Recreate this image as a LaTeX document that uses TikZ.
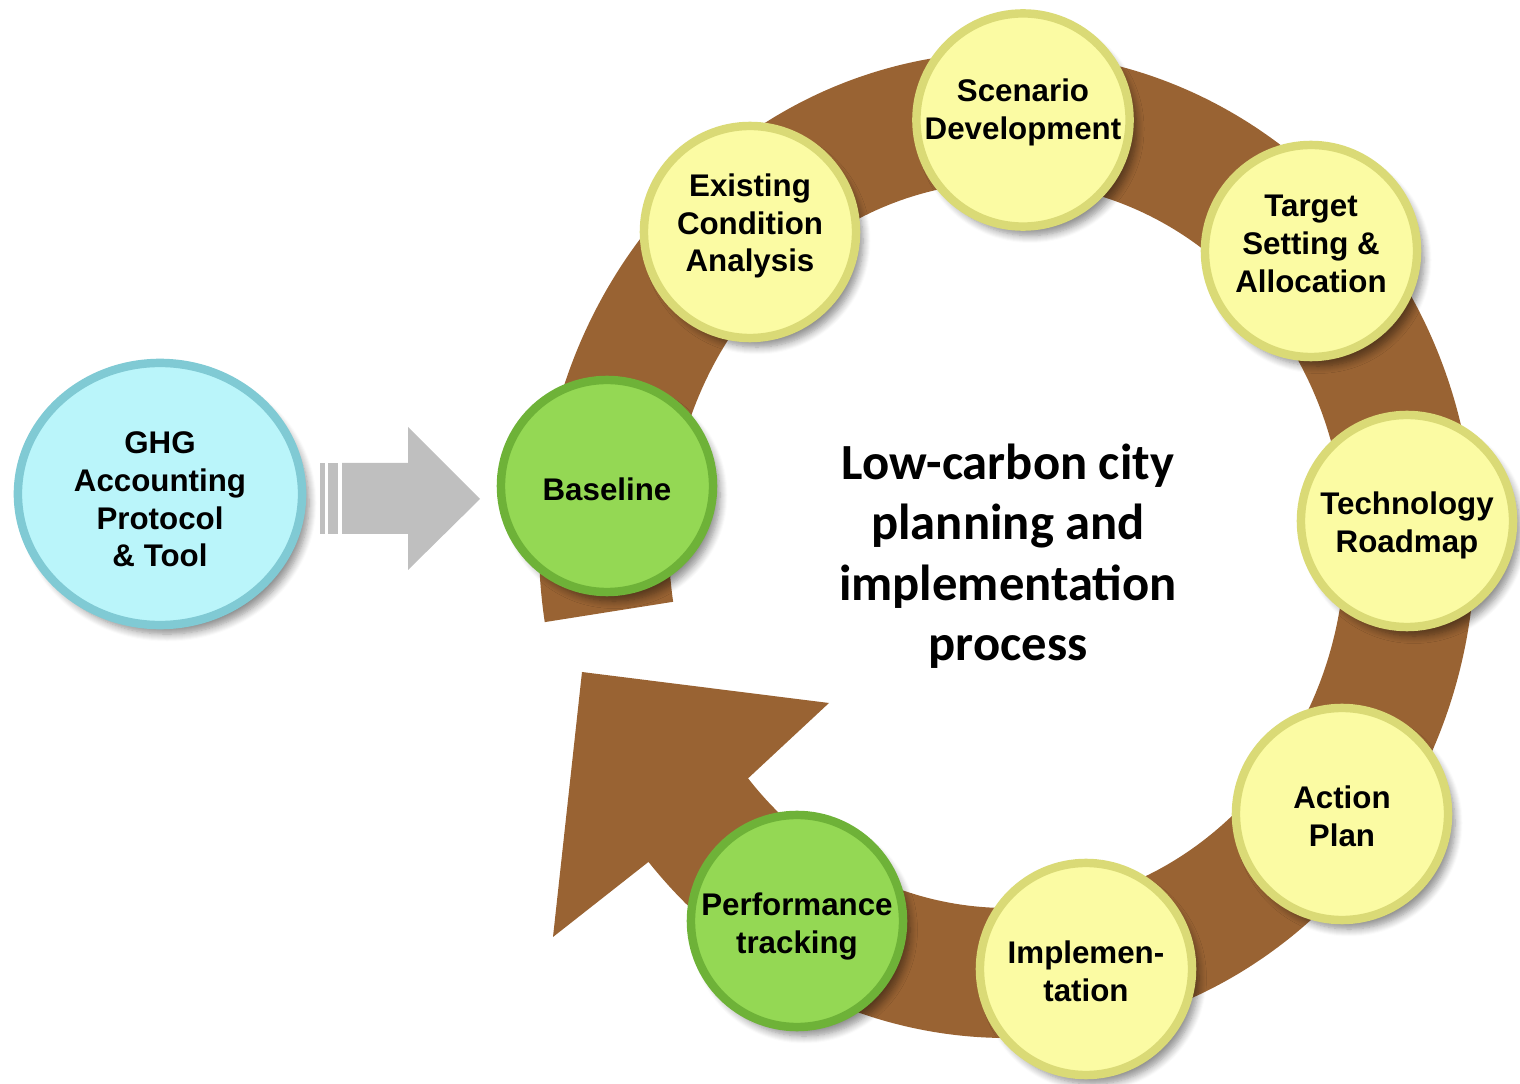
\documentclass[tikz,border=0pt]{standalone}
\usepackage{fontspec}
\setmainfont{Liberation Sans}
\newfontfamily\calfont{Carlito}
\usepackage{tikz}
\usetikzlibrary{calc}
\usetikzlibrary{shapes.geometric}
\usetikzlibrary{shadows.blur}

\definecolor{ringbrown}{RGB}{153,99,51}
\definecolor{ylwfill}{RGB}{251,251,163}
\definecolor{ylwrim}{RGB}{218,218,118}
\definecolor{grnfill}{RGB}{148,216,84}
\definecolor{grnrim}{RGB}{110,178,56}
\definecolor{cyanfill}{RGB}{186,245,250}
\definecolor{cyanrim}{RGB}{128,202,212}
\definecolor{arrowgray}{RGB}{191,191,191}

\begin{document}
\begin{tikzpicture}[x=0.01cm,y=0.01cm,
    button/.style 2 args={circle,minimum size=2.12cm,inner sep=0pt,align=center,
      fill=#1,draw=#2,line width=2.4pt,
      blur shadow={shadow xshift=0.7mm,shadow yshift=-0.9mm,shadow blur steps=8,shadow opacity=45},
      font=\bfseries\fontsize{8.9}{10.8}\selectfont},
    yellowbtn/.style={button={ylwfill}{ylwrim}},
    greenbtn/.style={button={grnfill}{grnrim}}]
  \useasboundingbox (0,0) rectangle (1520,1084);
  \coordinate (ctr) at (1007,539);
  \fill[ringbrown] ($(ctr)+(189:468 and 493)$)
      arc[start angle=189,end angle=-140,x radius=468,y radius=493]
      -- (553,147) -- (582,412) -- (829,381)
      -- ($(ctr)+(-140:338 and 363)$)
      arc[start angle=-140,end angle=189,x radius=338,y radius=363] -- cycle;
  \fill[arrowgray] (342,550) -- (408,550) -- (408,514) -- (480,585)
      -- (408,657) -- (408,621) -- (342,621) -- cycle;
  \fill[arrowgray] (328,550) rectangle (338,621);
  \fill[arrowgray] (320,550) rectangle (325,621);
  \node[button={cyanfill}{cyanrim},ellipse,minimum width=2.84cm,minimum height=2.62cm,text height=41.6pt]
      (ghg) at (160,590) {GHG\\Accounting\\Protocol\\\& Tool};
  \node[greenbtn,text height=8.1pt] (base) at (607,598) {Baseline};
  \node[yellowbtn,text depth=5.3pt] (exist) at (750,852) {Existing\\Condition\\Analysis};
  \node[yellowbtn,text depth=6.2pt] (scen) at (1023,964) {Scenario\\Development};
  \node[yellowbtn,text depth=4.3pt] (targ) at (1311,833) {Target\\Setting \&\\Allocation};
  \node[yellowbtn,text height=20pt] (tech) at (1407,563) {Technology\\Roadmap};
  \node[yellowbtn,text height=18.3pt] (act) at (1342,270) {Action\\Plan};
  \node[yellowbtn,text height=18.3pt] (impl) at (1086,115) {Implemen-\\tation};
  \node[greenbtn,text height=20.6pt] (perf) at (797,163) {Performance\\tracking};
  \node[font=\calfont\bfseries\fontsize{14.4}{17.2}\selectfont,align=center] (title) at (1008,528)
      {Low-carbon city\\planning and\\implementation\\process};
\end{tikzpicture}
\end{document}
